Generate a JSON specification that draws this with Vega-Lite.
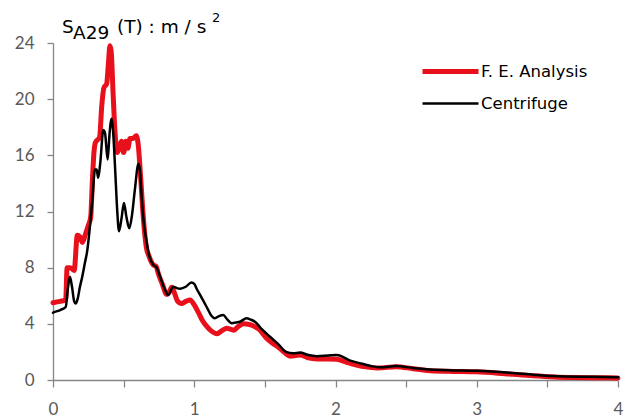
{
  "$schema": "https://vega.github.io/schema/vega-lite/v6.json",
  "width": 565,
  "height": 337,
  "autosize": {"type": "none"},
  "padding": {"left": 53, "top": 43, "right": 18, "bottom": 39},
  "background": "white",
  "config": {
    "view": {"stroke": null},
    "font": "DejaVu Sans",
    "axis": {
      "grid": false,
      "title": null,
      "domainColor": "#868686",
      "tickColor": "#868686",
      "domainWidth": 1.3,
      "tickWidth": 1.3,
      "labelFont": "Lato",
      "labelFontSize": 17,
      "labelColor": "#595959"
    }
  },
  "datasets": {
    "spectra": [
      {"series": "F. E. Analysis", "T": 0.0, "S": 5.5},
      {"series": "F. E. Analysis", "T": 0.05, "S": 5.6},
      {"series": "F. E. Analysis", "T": 0.09, "S": 5.7},
      {"series": "F. E. Analysis", "T": 0.1, "S": 8.0},
      {"series": "F. E. Analysis", "T": 0.12, "S": 8.0},
      {"series": "F. E. Analysis", "T": 0.15, "S": 7.8},
      {"series": "F. E. Analysis", "T": 0.172, "S": 10.3},
      {"series": "F. E. Analysis", "T": 0.19, "S": 10.2},
      {"series": "F. E. Analysis", "T": 0.208, "S": 9.8},
      {"series": "F. E. Analysis", "T": 0.23, "S": 10.4},
      {"series": "F. E. Analysis", "T": 0.25, "S": 11.0},
      {"series": "F. E. Analysis", "T": 0.267, "S": 11.6},
      {"series": "F. E. Analysis", "T": 0.278, "S": 14.0},
      {"series": "F. E. Analysis", "T": 0.29, "S": 16.2},
      {"series": "F. E. Analysis", "T": 0.3, "S": 16.9},
      {"series": "F. E. Analysis", "T": 0.33, "S": 17.3},
      {"series": "F. E. Analysis", "T": 0.345, "S": 19.5},
      {"series": "F. E. Analysis", "T": 0.36, "S": 20.8},
      {"series": "F. E. Analysis", "T": 0.38, "S": 21.1},
      {"series": "F. E. Analysis", "T": 0.392, "S": 22.5},
      {"series": "F. E. Analysis", "T": 0.403, "S": 23.8},
      {"series": "F. E. Analysis", "T": 0.412, "S": 23.4},
      {"series": "F. E. Analysis", "T": 0.425, "S": 20.5},
      {"series": "F. E. Analysis", "T": 0.44, "S": 17.5},
      {"series": "F. E. Analysis", "T": 0.455, "S": 16.2},
      {"series": "F. E. Analysis", "T": 0.47, "S": 16.6},
      {"series": "F. E. Analysis", "T": 0.485, "S": 17.0},
      {"series": "F. E. Analysis", "T": 0.5, "S": 16.2},
      {"series": "F. E. Analysis", "T": 0.515, "S": 17.0},
      {"series": "F. E. Analysis", "T": 0.53, "S": 16.5},
      {"series": "F. E. Analysis", "T": 0.545, "S": 17.2},
      {"series": "F. E. Analysis", "T": 0.565, "S": 17.2},
      {"series": "F. E. Analysis", "T": 0.59, "S": 17.4},
      {"series": "F. E. Analysis", "T": 0.605, "S": 16.6},
      {"series": "F. E. Analysis", "T": 0.62, "S": 14.5},
      {"series": "F. E. Analysis", "T": 0.64, "S": 11.5},
      {"series": "F. E. Analysis", "T": 0.66, "S": 9.5},
      {"series": "F. E. Analysis", "T": 0.68, "S": 8.8},
      {"series": "F. E. Analysis", "T": 0.71, "S": 8.2},
      {"series": "F. E. Analysis", "T": 0.73, "S": 8.1},
      {"series": "F. E. Analysis", "T": 0.745, "S": 7.6},
      {"series": "F. E. Analysis", "T": 0.775, "S": 6.8},
      {"series": "F. E. Analysis", "T": 0.805, "S": 6.1},
      {"series": "F. E. Analysis", "T": 0.825, "S": 6.3},
      {"series": "F. E. Analysis", "T": 0.84, "S": 6.6},
      {"series": "F. E. Analysis", "T": 0.86, "S": 6.2},
      {"series": "F. E. Analysis", "T": 0.88, "S": 5.65},
      {"series": "F. E. Analysis", "T": 0.91, "S": 5.45},
      {"series": "F. E. Analysis", "T": 0.94, "S": 5.6},
      {"series": "F. E. Analysis", "T": 0.97, "S": 5.7},
      {"series": "F. E. Analysis", "T": 1.0, "S": 5.35},
      {"series": "F. E. Analysis", "T": 1.03, "S": 4.8},
      {"series": "F. E. Analysis", "T": 1.06, "S": 4.2},
      {"series": "F. E. Analysis", "T": 1.09, "S": 3.8},
      {"series": "F. E. Analysis", "T": 1.12, "S": 3.5},
      {"series": "F. E. Analysis", "T": 1.16, "S": 3.3},
      {"series": "F. E. Analysis", "T": 1.2, "S": 3.55},
      {"series": "F. E. Analysis", "T": 1.23, "S": 3.68},
      {"series": "F. E. Analysis", "T": 1.26, "S": 3.6},
      {"series": "F. E. Analysis", "T": 1.28, "S": 3.55},
      {"series": "F. E. Analysis", "T": 1.31, "S": 3.8},
      {"series": "F. E. Analysis", "T": 1.35, "S": 4.0},
      {"series": "F. E. Analysis", "T": 1.39, "S": 3.95},
      {"series": "F. E. Analysis", "T": 1.42, "S": 3.85},
      {"series": "F. E. Analysis", "T": 1.46, "S": 3.6},
      {"series": "F. E. Analysis", "T": 1.51, "S": 3.0},
      {"series": "F. E. Analysis", "T": 1.55, "S": 2.65},
      {"series": "F. E. Analysis", "T": 1.6, "S": 2.3},
      {"series": "F. E. Analysis", "T": 1.64, "S": 1.95},
      {"series": "F. E. Analysis", "T": 1.68, "S": 1.7},
      {"series": "F. E. Analysis", "T": 1.72, "S": 1.75},
      {"series": "F. E. Analysis", "T": 1.75, "S": 1.78},
      {"series": "F. E. Analysis", "T": 1.8, "S": 1.6},
      {"series": "F. E. Analysis", "T": 1.87, "S": 1.5},
      {"series": "F. E. Analysis", "T": 1.95, "S": 1.5},
      {"series": "F. E. Analysis", "T": 2.01, "S": 1.47},
      {"series": "F. E. Analysis", "T": 2.1, "S": 1.2},
      {"series": "F. E. Analysis", "T": 2.2, "S": 0.95},
      {"series": "F. E. Analysis", "T": 2.3, "S": 0.85},
      {"series": "F. E. Analysis", "T": 2.43, "S": 0.95},
      {"series": "F. E. Analysis", "T": 2.55, "S": 0.8},
      {"series": "F. E. Analysis", "T": 2.65, "S": 0.68},
      {"series": "F. E. Analysis", "T": 2.8, "S": 0.62},
      {"series": "F. E. Analysis", "T": 3.0, "S": 0.58},
      {"series": "F. E. Analysis", "T": 3.2, "S": 0.45},
      {"series": "F. E. Analysis", "T": 3.4, "S": 0.3},
      {"series": "F. E. Analysis", "T": 3.55, "S": 0.22},
      {"series": "F. E. Analysis", "T": 3.7, "S": 0.18},
      {"series": "F. E. Analysis", "T": 3.85, "S": 0.16},
      {"series": "F. E. Analysis", "T": 4.0, "S": 0.15},
      {"series": "Centrifuge", "T": 0.0, "S": 4.8},
      {"series": "Centrifuge", "T": 0.03, "S": 4.9},
      {"series": "Centrifuge", "T": 0.054, "S": 5.0},
      {"series": "Centrifuge", "T": 0.09, "S": 5.2},
      {"series": "Centrifuge", "T": 0.105, "S": 6.5},
      {"series": "Centrifuge", "T": 0.12, "S": 7.35},
      {"series": "Centrifuge", "T": 0.135, "S": 6.6},
      {"series": "Centrifuge", "T": 0.15, "S": 5.6},
      {"series": "Centrifuge", "T": 0.16, "S": 5.45},
      {"series": "Centrifuge", "T": 0.175, "S": 5.8},
      {"series": "Centrifuge", "T": 0.19, "S": 6.6},
      {"series": "Centrifuge", "T": 0.207, "S": 7.35},
      {"series": "Centrifuge", "T": 0.225, "S": 8.3},
      {"series": "Centrifuge", "T": 0.243, "S": 9.25},
      {"series": "Centrifuge", "T": 0.262, "S": 11.0},
      {"series": "Centrifuge", "T": 0.28, "S": 13.0},
      {"series": "Centrifuge", "T": 0.297, "S": 15.0},
      {"series": "Centrifuge", "T": 0.309, "S": 15.0},
      {"series": "Centrifuge", "T": 0.32, "S": 14.4},
      {"series": "Centrifuge", "T": 0.335, "S": 15.5},
      {"series": "Centrifuge", "T": 0.356, "S": 17.8},
      {"series": "Centrifuge", "T": 0.368, "S": 17.6},
      {"series": "Centrifuge", "T": 0.387, "S": 15.7},
      {"series": "Centrifuge", "T": 0.4, "S": 17.5},
      {"series": "Centrifuge", "T": 0.415, "S": 18.6},
      {"series": "Centrifuge", "T": 0.425, "S": 17.8},
      {"series": "Centrifuge", "T": 0.44, "S": 15.0},
      {"series": "Centrifuge", "T": 0.455, "S": 12.0},
      {"series": "Centrifuge", "T": 0.467, "S": 10.6},
      {"series": "Centrifuge", "T": 0.485, "S": 11.5},
      {"series": "Centrifuge", "T": 0.502, "S": 12.6},
      {"series": "Centrifuge", "T": 0.52, "S": 11.6},
      {"series": "Centrifuge", "T": 0.54, "S": 10.8},
      {"series": "Centrifuge", "T": 0.56, "S": 11.8},
      {"series": "Centrifuge", "T": 0.58, "S": 13.6},
      {"series": "Centrifuge", "T": 0.605, "S": 15.4},
      {"series": "Centrifuge", "T": 0.615, "S": 15.0},
      {"series": "Centrifuge", "T": 0.628, "S": 13.0},
      {"series": "Centrifuge", "T": 0.645, "S": 11.0},
      {"series": "Centrifuge", "T": 0.66, "S": 10.0},
      {"series": "Centrifuge", "T": 0.68, "S": 8.9},
      {"series": "Centrifuge", "T": 0.71, "S": 8.2},
      {"series": "Centrifuge", "T": 0.734, "S": 8.0},
      {"series": "Centrifuge", "T": 0.76, "S": 7.3},
      {"series": "Centrifuge", "T": 0.79, "S": 6.5},
      {"series": "Centrifuge", "T": 0.816, "S": 6.05},
      {"series": "Centrifuge", "T": 0.851, "S": 6.64},
      {"series": "Centrifuge", "T": 0.875, "S": 6.55},
      {"series": "Centrifuge", "T": 0.9, "S": 6.5},
      {"series": "Centrifuge", "T": 0.94, "S": 6.64},
      {"series": "Centrifuge", "T": 0.98, "S": 6.95},
      {"series": "Centrifuge", "T": 1.0, "S": 6.85},
      {"series": "Centrifuge", "T": 1.017, "S": 6.5},
      {"series": "Centrifuge", "T": 1.05, "S": 5.9},
      {"series": "Centrifuge", "T": 1.088, "S": 5.2},
      {"series": "Centrifuge", "T": 1.12, "S": 4.6},
      {"series": "Centrifuge", "T": 1.146, "S": 4.4},
      {"series": "Centrifuge", "T": 1.175, "S": 4.55},
      {"series": "Centrifuge", "T": 1.205, "S": 4.63},
      {"series": "Centrifuge", "T": 1.235, "S": 4.3},
      {"series": "Centrifuge", "T": 1.265, "S": 4.05},
      {"series": "Centrifuge", "T": 1.3, "S": 4.1},
      {"series": "Centrifuge", "T": 1.323, "S": 4.15},
      {"series": "Centrifuge", "T": 1.37, "S": 4.39},
      {"series": "Centrifuge", "T": 1.4, "S": 4.3},
      {"series": "Centrifuge", "T": 1.43, "S": 4.15},
      {"series": "Centrifuge", "T": 1.48, "S": 3.6},
      {"series": "Centrifuge", "T": 1.536, "S": 3.08},
      {"series": "Centrifuge", "T": 1.6, "S": 2.5},
      {"series": "Centrifuge", "T": 1.65, "S": 2.0},
      {"series": "Centrifuge", "T": 1.7, "S": 1.9},
      {"series": "Centrifuge", "T": 1.75, "S": 1.95},
      {"series": "Centrifuge", "T": 1.8, "S": 1.8},
      {"series": "Centrifuge", "T": 1.87, "S": 1.7},
      {"series": "Centrifuge", "T": 1.95, "S": 1.75},
      {"series": "Centrifuge", "T": 2.01, "S": 1.78},
      {"series": "Centrifuge", "T": 2.1, "S": 1.4},
      {"series": "Centrifuge", "T": 2.17, "S": 1.2},
      {"series": "Centrifuge", "T": 2.25, "S": 1.0},
      {"series": "Centrifuge", "T": 2.314, "S": 0.9},
      {"series": "Centrifuge", "T": 2.43, "S": 1.0},
      {"series": "Centrifuge", "T": 2.55, "S": 0.85},
      {"series": "Centrifuge", "T": 2.645, "S": 0.76},
      {"series": "Centrifuge", "T": 2.8, "S": 0.7},
      {"series": "Centrifuge", "T": 3.0, "S": 0.66},
      {"series": "Centrifuge", "T": 3.234, "S": 0.52},
      {"series": "Centrifuge", "T": 3.4, "S": 0.38},
      {"series": "Centrifuge", "T": 3.54, "S": 0.28},
      {"series": "Centrifuge", "T": 3.7, "S": 0.24},
      {"series": "Centrifuge", "T": 3.82, "S": 0.24},
      {"series": "Centrifuge", "T": 4.0, "S": 0.2}
    ],
    "caption": [{"part": "title"}]
  },
  "layer": [
    {
      "data": {"name": "spectra"},
      "transform": [{"filter": "datum.series === 'F. E. Analysis'"}],
      "mark": {"type": "line", "interpolate": "monotone", "strokeCap": "round", "strokeJoin": "round"},
      "encoding": {
        "x": {
          "field": "T", "type": "quantitative",
          "scale": {"domain": [0, 4], "nice": false},
          "axis": {
            "values": [0, 0.5, 1, 1.5, 2, 2.5, 3, 3.5, 4],
            "labelExpr": "datum.value % 1 === 0 ? format(datum.value, 'd') : ''",
            "tickSize": 7, "labelPadding": 14, "labelFlush": false
          }
        },
        "y": {
          "field": "S", "type": "quantitative",
          "scale": {"domain": [0, 24], "nice": false},
          "axis": {
            "values": [0, 2, 4, 6, 8, 10, 12, 14, 16, 18, 20, 22, 24],
            "labelExpr": "datum.value % 4 === 0 ? format(datum.value, 'd') : ''",
            "tickSize": 6, "labelPadding": 13
          }
        },
        "color": {
          "field": "series", "type": "nominal",
          "scale": {"domain": ["F. E. Analysis", "Centrifuge"], "range": ["#e8101a", "#000000"]},
          "legend": {
            "orient": "none", "legendX": 385, "legendY": 16, "title": null,
            "padding": 0, "symbolType": "M-2.8,0H2.8", "symbolSize": 400,
            "symbolFillColor": "transparent",
            "labelOffset": 18, "rowPadding": 10,
            "labelFont": "DejaVu Sans", "labelFontSize": 16.5, "labelColor": "#000000"
          }
        },
        "strokeWidth": {
          "field": "series", "type": "nominal",
          "scale": {"domain": ["F. E. Analysis", "Centrifuge"], "range": [5, 2.5]},
          "legend": {
            "orient": "none", "legendX": 385, "legendY": 16, "title": null,
            "padding": 0, "symbolType": "M-2.8,0H2.8", "symbolSize": 400,
            "symbolFillColor": "transparent",
            "labelOffset": 18, "rowPadding": 10,
            "labelFont": "DejaVu Sans", "labelFontSize": 16.5, "labelColor": "#000000"
          }
        }
      }
    },
    {
      "data": {"name": "spectra"},
      "transform": [{"filter": "datum.series === 'Centrifuge'"}],
      "mark": {"type": "line", "interpolate": "monotone", "strokeCap": "round", "strokeJoin": "round"},
      "encoding": {
        "x": {"field": "T", "type": "quantitative"},
        "y": {"field": "S", "type": "quantitative"},
        "color": {"field": "series", "type": "nominal"},
        "strokeWidth": {"field": "series", "type": "nominal"}
      }
    },
    {
      "data": {"name": "caption"},
      "mark": {"type": "text", "align": "left", "baseline": "alphabetic", "fontSize": 18.5, "color": "#000000"},
      "encoding": {
        "x": {"datum": 0.064},
        "y": {"datum": 24.71},
        "text": {"value": "S"}
      }
    },
    {
      "data": {"name": "caption"},
      "mark": {"type": "text", "align": "left", "baseline": "alphabetic", "fontSize": 18.5, "color": "#000000"},
      "encoding": {
        "x": {"datum": 0.142},
        "y": {"datum": 24.31},
        "text": {"value": "A29"}
      }
    },
    {
      "data": {"name": "caption"},
      "mark": {"type": "text", "align": "left", "baseline": "alphabetic", "fontSize": 18.5, "color": "#000000"},
      "encoding": {
        "x": {"datum": 0.453},
        "y": {"datum": 24.71},
        "text": {"value": "(T) : m / s"}
      }
    },
    {
      "data": {"name": "caption"},
      "mark": {"type": "text", "align": "left", "baseline": "alphabetic", "fontSize": 13, "color": "#000000"},
      "encoding": {
        "x": {"datum": 1.125},
        "y": {"datum": 25.46},
        "text": {"value": "2"}
      }
    }
  ]
}
